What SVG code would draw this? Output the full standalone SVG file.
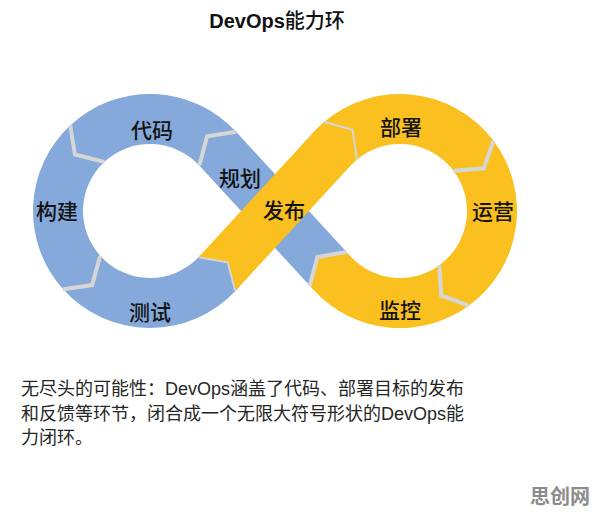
<svg xmlns="http://www.w3.org/2000/svg" width="596" height="514" viewBox="0 0 596 514">
<style>
.blue{fill:#84a9da}
.yellow{fill:#f9c01f}
.gap{fill:none;stroke:#d6d6d6;stroke-width:4;stroke-linejoin:miter}
.lbl{font-family:"Noto Sans CJK SC","Noto Sans",sans-serif;font-size:21px;font-weight:500;fill:#141414;text-anchor:middle}
.desc{font-family:"Segoe UI","Liberation Sans","Noto Sans CJK SC",sans-serif;font-size:18px;fill:#262626}
</style>
<rect width="596" height="514" fill="#ffffff"/>
<text x="277" y="28" text-anchor="middle" font-family="Liberation Sans,'Noto Sans CJK SC',sans-serif" font-size="20" font-weight="bold" fill="#111">DevOps<tspan font-family="'Noto Sans CJK SC',sans-serif" font-weight="500">能力环</tspan></text>

<g id="ring">
<g id="seg-daima"><path class="blue" d="M236.1,131.8 A117,117 0 0 0 70.2,125.4 L74.9,154.4 L104.3,162 A67,67 0 0 1 199.3,165.6 L207.1,136.3 Z"/><text class="lbl" x="152" y="138">代码</text></g>
<g id="seg-goujian"><path class="blue" d="M70.2,125.4 A117,117 0 0 0 63.1,289.3 L92.1,285.1 L100.2,255.8 A67,67 0 0 1 104.3,162 L74.9,154.4 Z"/><text class="lbl" x="57" y="219">构建</text></g>
<g id="seg-ceshi"><path class="blue" d="M63.1,289.3 A117,117 0 0 0 236.1,290.2 L228.5,261.5 L199.3,256.4 A67,67 0 0 1 100.2,255.8 L92.1,285.1 Z"/><text class="lbl" x="150" y="320">测试</text></g>
<g id="seg-guihua"><path class="blue" d="M309.8,285.8 L199.3,165.6 L207.1,136.3 L236.1,131.8 L346.6,252 L317.4,257.1 Z"/><text class="lbl" x="240" y="186">规划</text></g>
<g id="seg-bushu"><path class="yellow" d="M323.2,122.7 A117,117 0 0 1 493.4,140.6 L483.8,168.3 L453.5,170.7 A67,67 0 0 0 356,160.4 L351.6,130.4 Z"/><text class="lbl" x="401" y="135">部署</text></g>
<g id="seg-yunying"><path class="yellow" d="M493.4,140.6 A117,117 0 0 1 468.8,305.7 L441.2,295.5 L439.4,265.2 A67,67 0 0 0 453.5,170.7 L483.8,168.3 Z"/><text class="lbl" x="493" y="219">运营</text></g>
<g id="seg-jiankong"><path class="yellow" d="M468.8,305.7 A117,117 0 0 1 313.9,290.2 L309.8,285.8 L317.4,257.1 L346.6,252 L350.7,256.4 A67,67 0 0 0 439.4,265.2 L441.2,295.5 Z"/><text class="lbl" x="400" y="318">监控</text></g>
<g id="gaps">
<polyline class="gap" points="236.1,131.8 207.1,136.3 199.3,165.6"/>
<polyline class="gap" points="70.2,125.4 74.9,154.4 104.3,162"/>
<polyline class="gap" points="63.1,289.3 92.1,285.1 100.2,255.8"/>
<polyline class="gap" points="493.4,140.6 483.8,168.3 453.5,170.7"/>
<polyline class="gap" points="468.8,305.7 441.2,295.5 439.4,265.2"/>
<polyline class="gap" points="309.8,285.8 317.4,257.1 346.6,252"/>
<polyline class="gap" points="236.1,290.2 228.5,261.5 199.3,256.4"/>
<polyline class="gap" points="323.2,122.7 351.6,130.4 356,160.4"/>
</g>
<g id="seg-fabu"><path class="yellow" d="M199.3,256.4 L313.9,131.8 A117,117 0 0 1 323.2,122.7 L351.6,130.4 L356,160.4 A67,67 0 0 0 350.7,165.6 L236.1,290.2 L228.5,261.5 Z"/><text class="lbl" x="284" y="218">发布</text></g>
</g>

<g id="caption">
<text class="desc" x="21" y="395">无尽头的可能性：DevOps涵盖了代码、部署目标的发布</text>
<text class="desc" x="21" y="420">和反馈等环节，闭合成一个无限大符号形状的DevOps能</text>
<text class="desc" x="21" y="444">力闭环。</text>
</g>
<text x="560" y="504" text-anchor="middle" font-family="'Noto Sans CJK SC',sans-serif" font-size="20" font-weight="bold" fill="#8c8c8c">思创网</text>
</svg>
